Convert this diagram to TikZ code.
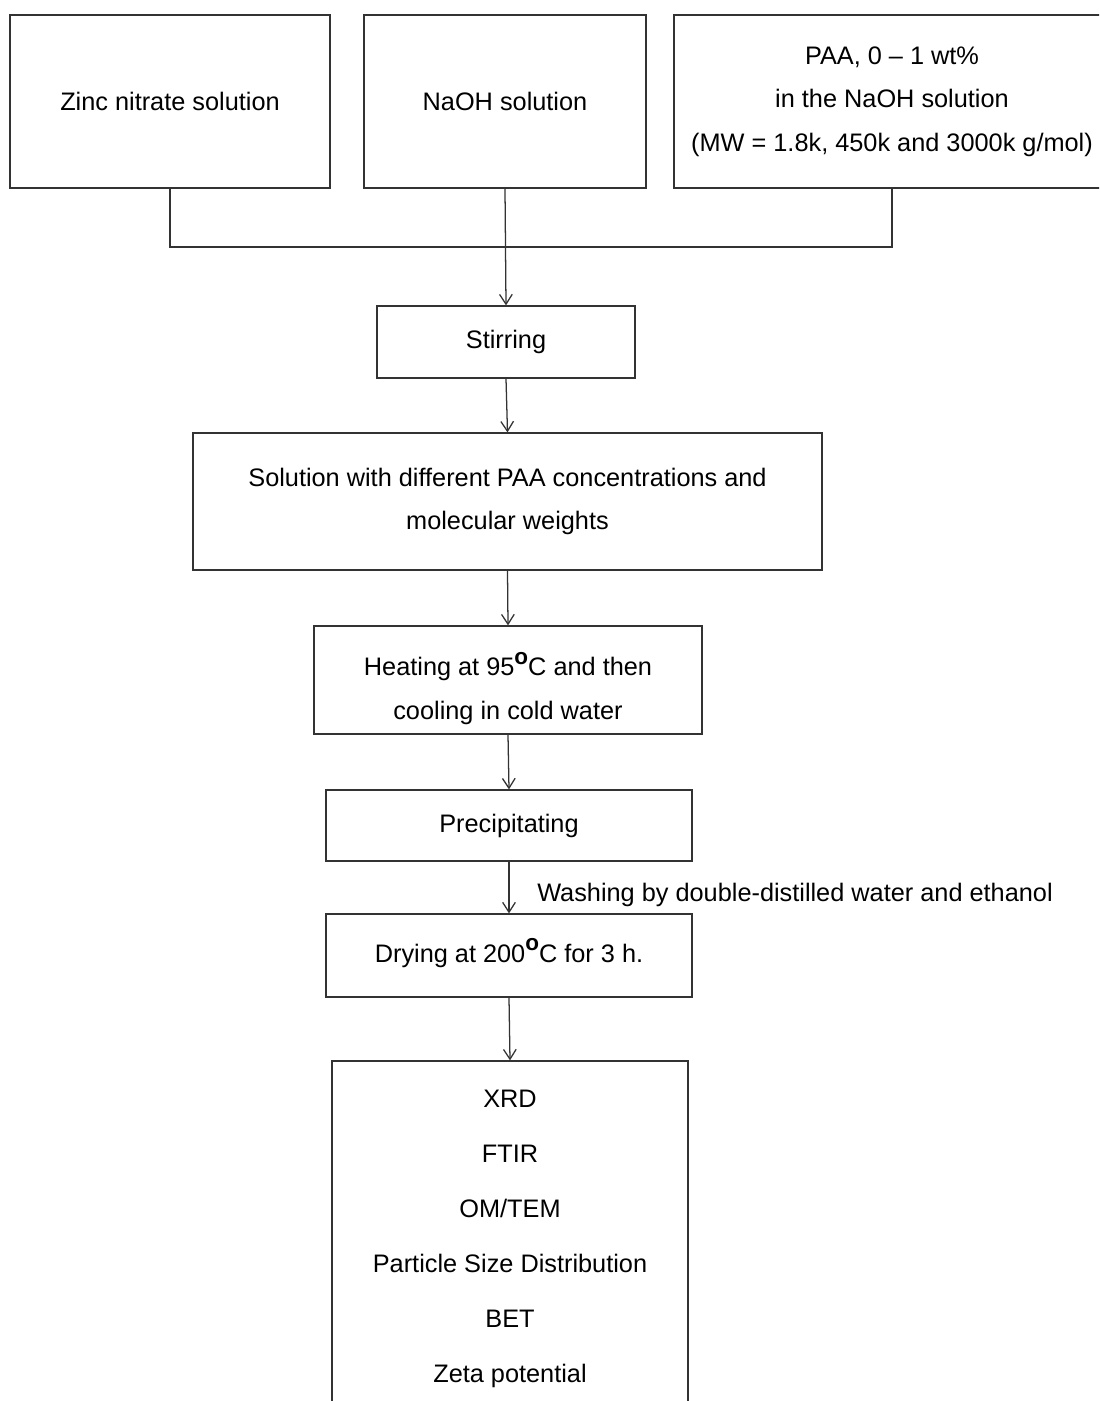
\documentclass[tikz,border=0pt]{standalone}
\usepackage{fontspec}
\setmainfont{Liberation Sans}
\usepackage{tikz}
\usetikzlibrary{arrows.meta,positioning}
\newcommand{\degsign}{\smash{\raisebox{0.45em}{\fontsize{16}{16}\selectfont\bfseries o}}}

\begin{document}
\begin{tikzpicture}[x=0.025cm,y=-0.025cm,
  stepbox/.style={draw=black!80,line width=0.9pt,align=center,inner sep=2pt,font=\fontsize{18}{31}\selectfont},
  link/.style={draw=black!80,line width=0.9pt},
  flow/.style={link,-{Straight Barb[length=7pt,width=9pt]}}]
\useasboundingbox (0,0) rectangle (1099,1401);
\clip (0,0) rectangle (1099,1401);
\node[stepbox,minimum width=320*0.025cm,minimum height=173*0.025cm] (zinc) at (170,101.5) {Zinc nitrate solution};
\node[stepbox,minimum width=282*0.025cm,minimum height=173*0.025cm] (naoh) at (505,101.5) {NaOH solution};
\node[stepbox,minimum width=436*0.025cm,minimum height=173*0.025cm] (paa) at (892,101.5) {PAA, 0 -- 1 wt\%\\in the NaOH solution\\(MW = 1.8k, 450k and 3000k g/mol)};
\node[stepbox,minimum width=258*0.025cm,minimum height=72*0.025cm] (stir) at (506,342) {Stirring};
\node[stepbox,minimum width=629*0.025cm,minimum height=137*0.025cm] (soln) at (507.5,501.5) {Solution with different PAA concentrations and\\molecular weights};
\node[stepbox,minimum width=388*0.025cm,minimum height=108*0.025cm] (heat) at (508,680) {\rule{0pt}{1.6em}Heating at 95\degsign C and then\\cooling in cold water};
\node[stepbox,minimum width=366*0.025cm,minimum height=71*0.025cm] (precip) at (509,825.5) {Precipitating};
\node[stepbox,minimum width=366*0.025cm,minimum height=83*0.025cm] (dry) at (509,955.5) {Drying at 200\degsign C for 3 h.};
\node[stepbox,font=\fontsize{18}{39}\selectfont,minimum width=356*0.025cm,minimum height=356*0.025cm] (anal) at (510,1239) {XRD\\FTIR\\OM/TEM\\Particle Size Distribution\\BET\\Zeta potential};
\node[anchor=west,font=\fontsize{18}{31}\selectfont,inner sep=0pt] (wash) at (537,895) {Washing by double-distilled water and ethanol};
\coordinate (jn) at (0,247);
\draw[link] (zinc.south) -- (zinc.south |- jn) -- (paa.south |- jn) -- (paa.south);
\draw[flow] (naoh.south) -- (stir.north);
\draw[flow] (stir.south) -- (soln.north);
\draw[flow] (soln.south) -- (heat.north);
\draw[flow] (heat.south) -- (precip.north);
\draw[flow] (precip.south) -- (dry.north);
\draw[flow] (dry.south) -- (anal.north);
\end{tikzpicture}
\end{document}
